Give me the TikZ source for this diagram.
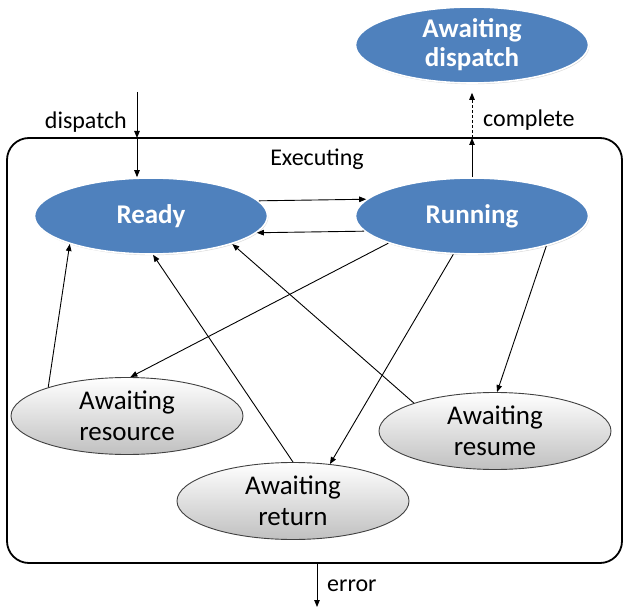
\documentclass[tikz,border=0pt]{standalone}
\usepackage{fontspec}
\setmainfont{Carlito}
\usetikzlibrary{arrows.meta,shadows,shapes.geometric}
\definecolor{stateblue}{RGB}{79,129,189}
\definecolor{waitgray}{RGB}{192,192,192}
\begin{document}
\begin{tikzpicture}[x=1pt,y=-1pt,
    >={Triangle[length=7pt,width=5.5pt]},
    link/.style={->, line width=0.9pt},
    active/.style={ellipse, fill=stateblue, draw=white, line width=1.6pt, text=white,
        font=\fontsize{27}{29}\selectfont\bfseries, align=center, inner sep=0pt,
        minimum width=233pt, minimum height=76pt,
        drop shadow={opacity=0.3, shadow xshift=0.8pt, shadow yshift=-1.2pt}},
    waiting/.style={ellipse, top color=white, bottom color=waitgray, draw=black!75, line width=0.9pt,
        font=\fontsize{27}{31}\selectfont, align=center, inner sep=0pt,
        minimum width=232pt, minimum height=77pt},
    lbl/.style={font=\fontsize{24}{28}\selectfont, inner sep=0pt}]
            \useasboundingbox (0,0) rectangle (623,609);
            \node[draw, rounded corners=22pt, line width=1.8pt, outer sep=0pt, minimum width=615pt, minimum height=425pt] (exec) at (314.5,350.5) {};
            \node[lbl, anchor=base] (execlbl) at (317,166) {Executing};
            \node[active] (awdispatch) at (472,45) {Awaiting\\dispatch};
            \node[active] (ready) at (151,216) {Ready};
            \node[active] (running) at (472,216) {Running};
            \node[waiting] (awresource) at (127,416) {Awaiting\\resource};
            \node[waiting] (awreturn) at (293,501) {Awaiting\\return};
            \node[waiting] (awresume) at (495,431) {Awaiting\\resume};
            \coordinate (din) at (137,92);
            \coordinate (err) at (317,607);
            \node[lbl, anchor=base east] (displbl) at (127,129) {dispatch};
            \node[lbl, anchor=base west] (complbl) at (483,127) {complete};
            \node[lbl, anchor=base west] (errlbl) at (327,591) {error};
            \draw[link] (din) -- (din |- exec.north);
            \draw[link] (din |- exec.north) -- (din |- ready.north);
            \draw[link] (running.north) -- (running |- exec.north);
            \draw[link, dash pattern=on 3pt off 2pt, shorten >=9pt] (running |- exec.north) -- (awdispatch.south);
            \draw[link] (err |- exec.south) -- (err);
            \draw[link] (ready.8.5) -- (running.171.4);
            \draw[link] (running.188.6) -- (ready.351.5);
            \draw[link] (awresource.160.3) -- (ready.199.5);
            \draw[link] (running.198.4) -- (awresource.85.6);
            \draw[link] (awreturn.90) -- (ready.273);
            \draw[link] (running.244) -- (awreturn.45);
            \draw[link] (running.338.6) -- (awresume.87);
            \draw[link] (awresume.161.1) -- (ready.341.2);
        \end{tikzpicture}
\end{document}
